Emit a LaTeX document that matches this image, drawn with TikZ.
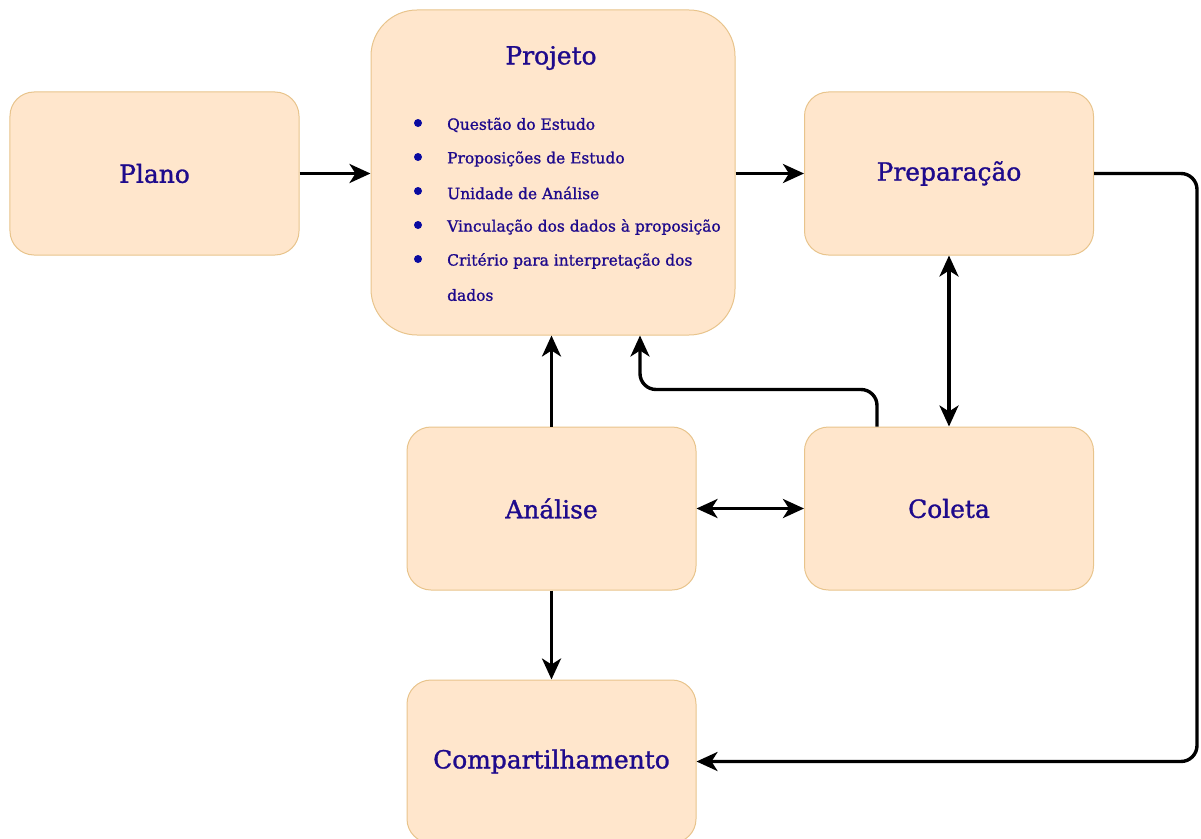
\documentclass[tikz,border=0pt]{standalone}
\usepackage{fontspec}
\setmainfont{DejaVu Serif}
\newfontfamily\labelfont[FakeBold=1.2]{DejaVu Serif}
\usetikzlibrary{arrows.meta}
\definecolor{boxfill}{HTML}{FFE6CC}
\definecolor{boxline}{HTML}{E8C48C}
\definecolor{ink}{HTML}{1E0A8C}
\definecolor{dot}{HTML}{0A0AA0}
\begin{document}
\begin{tikzpicture}[x=1bp,y=-1bp,
  stage/.style={draw=boxline, fill=boxfill, line width=1bp, rounded corners=24bp,
    minimum width=289bp, minimum height=163bp, inner sep=0pt, text=ink,
    font=\labelfont\fontsize{25}{30}\selectfont},
  item/.style={anchor=west, inner sep=0pt, text=ink, font=\labelfont\fontsize{15.5}{18}\selectfont},
  bullet/.style={circle, fill=dot, inner sep=0pt, minimum size=8bp},
  flow/.style={line width=3.4bp, -{Stealth[length=21bp,width=19bp,inset=6bp]}},
  both/.style={line width=3.4bp, {Stealth[length=21bp,width=19bp,inset=6bp]}-{Stealth[length=21bp,width=19bp,inset=6bp]}}]
\useasboundingbox (0,0) rectangle (1201,839);

% stages
\node[stage] (plano) at (154.5,173.5) {Plano};
\node[stage, minimum width=364bp, minimum height=325bp, rounded corners=46bp] (projeto) at (553,172.5) {};
\node[stage] (preparacao) at (949,173.5) {Preparação};
\node[stage] (analise) at (551.5,508.5) {Análise};
\node[stage] (coleta) at (949,508.5) {Coleta};
\node[stage] (compart) at (551.5,761.5) {Compartilhamento};

% contents of the design stage
\node[text=ink, font=\labelfont\fontsize{25}{30}\selectfont, inner sep=0pt] (titulo) at (551,58) {Projeto};
\foreach \k/\txt in {0/Questão do Estudo, 1/Proposições de Estudo, 2/Unidade de Análise,
    3/Vinculação dos dados à proposição, 4/Critério para interpretação dos} {
  \node[bullet] (b\k) at (418,{123+34*\k}) {};
  \node[item] (i\k) at (447,{125+34*\k}) {\txt};
}
\node[item] (i5) at (447,295) {dados};

% connectors
\draw[flow] (plano.east) -- (projeto.west |- plano.east);
\draw[flow] (projeto.east |- preparacao.west) -- (preparacao.west);
\draw[both] (preparacao.south) -- (coleta.north);
\draw[flow] (analise.north) -- (analise.north |- projeto.south);
\draw[flow, rounded corners=16bp] ([xshift=-72bp]coleta.north) -- ++(0,-37) -| ([xshift=87bp]projeto.south);
\draw[both] (analise.east) -- (coleta.west);
\draw[flow] (analise.south) -- (compart.north);
\draw[flow, rounded corners=16bp] (preparacao.east) -- (1197,173.5) |- (compart.east);
\end{tikzpicture}
\end{document}
